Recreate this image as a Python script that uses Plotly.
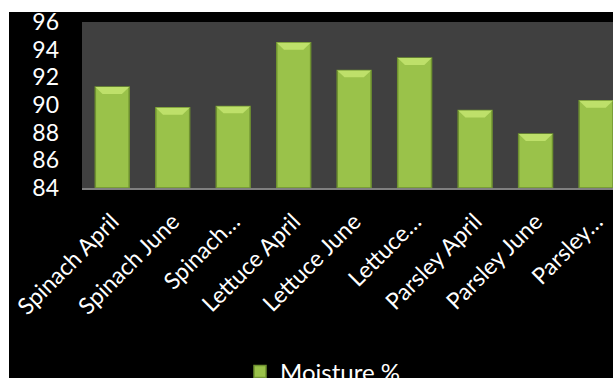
import plotly.graph_objects as go

# Moisture content of leafy greens by sampling month
categories = ["Spinach April", "Spinach June", "Spinach…",
              "Lettuce April", "Lettuce June", "Lettuce…",
              "Parsley April", "Parsley June", "Parsley…"]
moisture = [91.3, 89.8, 89.9, 94.5, 92.5, 93.4, 89.6, 87.9, 90.3]
y_ticks = [84, 86, 88, 90, 92, 94, 96]

Y_MIN, Y_MAX = 84, 96
BAR_W = 0.56
xs = list(range(len(categories)))

fig = go.Figure()

# main bar body with darker rim
fig.add_trace(go.Bar(
    x=xs, y=[v - Y_MIN for v in moisture], base=Y_MIN, width=BAR_W,
    name="Moisture %",
    marker=dict(color="#9AC24A", line=dict(color="#6F9230", width=1.5)),
    hoverinfo="skip",
))

# bevelled cap on top of each bar
cap_h, cap_in = 0.5, 0.12
for i, v in zip(xs, moisture):
    x0, x1 = i - BAR_W / 2, i + BAR_W / 2
    fig.add_trace(go.Scatter(
        x=[x0, x1, x1 - cap_in, x0 + cap_in, x0],
        y=[v, v, v - cap_h, v - cap_h, v],
        fill="toself", fillcolor="#BEE06A", mode="lines",
        line=dict(width=0, color="#BEE06A"),
        showlegend=False, hoverinfo="skip",
    ))

fig.update_layout(
    width=613, height=378,
    margin=dict(l=82, r=0, t=22, b=190, autoexpand=False),
    paper_bgcolor="#000000",
    plot_bgcolor="#404040",
    font=dict(family="Lato, Open Sans, sans-serif", color="#FFFFFF"),
    showlegend=True,
    legend=dict(orientation="h", xref="container", yref="container",
                x=240 / 613, xanchor="left", y=6 / 378, yanchor="middle",
                font=dict(size=24, color="#FFFFFF"), bgcolor="rgba(0,0,0,0)"),
    bargap=0.44,
    xaxis=dict(range=[-0.5, 8.28], tickvals=xs, ticktext=categories,
               tickangle=-45, tickfont=dict(size=23, color="#FFFFFF"),
               ticklabelstandoff=9,
               showgrid=False, zeroline=False, showline=True,
               linecolor="#808080", linewidth=2, ticks="", automargin=False),
    yaxis=dict(range=[Y_MIN, Y_MAX], tickvals=y_ticks, showgrid=False,
               zeroline=False, tickfont=dict(size=23, color="#FFFFFF"),
               ticklabelstandoff=22, ticks="", automargin=False),
    shapes=[
        # white page border along the top and left edges
        dict(type="rect", xref="paper", yref="paper", x0=-0.2, x1=1.1,
             y0=1 + 10 / 166, y1=1.3, fillcolor="#FFFFFF", line=dict(width=0), layer="above"),
        dict(type="rect", xref="paper", yref="paper", x0=-0.2, x1=-73 / 531,
             y0=-1.3, y1=1.3, fillcolor="#FFFFFF", line=dict(width=0), layer="above"),
    ],
)

fig.write_html("out.html")
